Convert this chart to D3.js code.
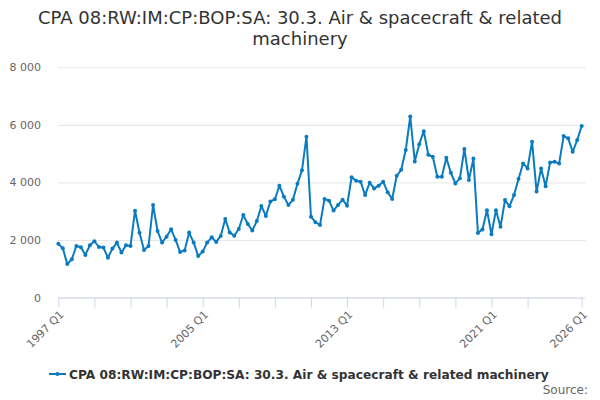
<!DOCTYPE html>
<html>
<head>
<meta charset="utf-8">
<script src="https://cdn.jsdelivr.net/npm/d3@7"></script>
<style>
  body { margin: 0; background: #fff; }
  svg { font-family: "DejaVu Sans", sans-serif; display: block; }
</style>
</head>
<body>
<svg width="600" height="400"></svg>
<script>
// quarterly categories 1997 Q1 .. 2026 Q1
const years = d3.range(1997, 2027);
const quarters = [];
years.forEach(y => [1, 2, 3, 4].forEach(q => { if (y < 2026 || q === 1) quarters.push(y + " Q" + q); }));

const values = [
  1870, 1710, 1160, 1330, 1790, 1745, 1480, 1815, 1955, 1755,
  1735, 1385, 1700, 1910, 1560, 1815, 1790, 3015, 2250, 1650,
  1790, 3215, 2310, 1910, 2115, 2370, 2000, 1580, 1630, 2255,
  1910, 1445, 1595, 1910, 2090, 1930, 2140, 2730, 2255, 2150,
  2380, 2865, 2555, 2325, 2660, 3180, 2835, 3335, 3415, 3885,
  3505, 3215, 3395, 3950, 4420, 5590, 2810, 2615, 2520, 3425,
  3365, 3020, 3215, 3400, 3190, 4175, 4060, 4025, 3560, 3990,
  3790, 3885, 4025, 3655, 3425, 4230, 4440, 5125, 6290, 4730,
  5330, 5780, 4960, 4890, 4195, 4195, 4855, 4335, 3965, 4140,
  5165, 4080, 4830, 2245, 2365, 3035, 2200, 3035, 2455, 3385,
  3175, 3560, 4115, 4660, 4485, 5415, 3680, 4485, 3870, 4695,
  4715, 4660, 5610, 5530, 5065, 5470, 5960
];

const yTicks = [0, 2000, 4000, 6000, 8000];
const xLabels = ["1997 Q1", "2005 Q1", "2013 Q1", "2021 Q1", "2026 Q1"];
const xTickMarks = quarters.filter((q, i) => (i % 8 === 0 && i <= 104) || i === quarters.length - 1);

const titleLines = ["CPA 08:RW:IM:CP:BOP:SA: 30.3. Air & spacecraft & related", "machinery"];
const seriesName = "CPA 08:RW:IM:CP:BOP:SA: 30.3. Air & spacecraft & related machinery";
const lineColor = "#0a7bc1";

const svg = d3.select("svg");

const x = d3.scalePoint().domain(quarters).range([58.3, 581.7]);
const y = d3.scaleLinear().domain([0, 8000]).range([297.5, 67.3]);

// title
svg.append("text")
  .attr("x", 300).attr("y", 24)
  .attr("text-anchor", "middle")
  .attr("font-size", 18).attr("fill", "#333")
  .selectAll("tspan").data(titleLines).join("tspan")
  .attr("x", 300).attr("dy", (d, i) => i ? 21 : 0)
  .text(d => d);

// gridlines + y labels
const yAxis = d3.axisLeft(y).tickValues(yTicks).tickSize(-528)
  .tickFormat(d => d3.format(",")(d).replace(/,/g, " "));
svg.append("g").attr("transform", "translate(58,0)").call(yAxis)
  .call(g => g.select(".domain").remove())
  .call(g => g.selectAll(".tick line").attr("stroke", "#e6e6e6"))
  .call(g => g.selectAll(".tick text").attr("x", -17).attr("fill", "#666")
    .attr("font-size", 11).attr("font-family", "DejaVu Sans, sans-serif"));

// x axis
const xAxis = d3.axisBottom(x).tickValues(xTickMarks).tickSize(10).tickSizeOuter(0)
  .tickFormat(d => xLabels.includes(d) ? d : "");
const gx = svg.append("g").attr("transform", "translate(0,297.5)").call(xAxis);
gx.select(".domain").attr("stroke", "#ccd6eb").attr("d", "M58,0.5H583");
gx.selectAll(".tick line").attr("stroke", "#ccd6eb");
gx.selectAll(".tick text")
  .attr("fill", "#666").attr("font-size", 11).attr("font-family", "DejaVu Sans, sans-serif")
  .attr("text-anchor", "end")
  .attr("transform", "translate(3,15) rotate(-45)")
  .attr("y", 0).attr("dy", "0.35em");

// series
const line = d3.line().x((d, i) => x(quarters[i])).y(d => y(d));
svg.append("path").datum(values)
  .attr("fill", "none").attr("stroke", lineColor).attr("stroke-width", 2)
  .attr("stroke-linejoin", "round").attr("d", line);
svg.append("g").selectAll("circle").data(values).join("circle")
  .attr("cx", (d, i) => x(quarters[i])).attr("cy", d => y(d))
  .attr("r", 2).attr("fill", lineColor);

// legend
const lg = svg.append("g").attr("transform", "translate(49,374)");
lg.append("line").attr("x1", 0).attr("x2", 17).attr("stroke", lineColor).attr("stroke-width", 2);
lg.append("circle").attr("cx", 8.5).attr("r", 2).attr("fill", lineColor);
lg.append("text").attr("x", 20).attr("y", 4.5)
  .attr("font-size", 12.2).attr("font-weight", "bold").attr("fill", "#333")
  .text(seriesName);

svg.append("text").attr("x", 588).attr("y", 394).attr("text-anchor", "end")
  .attr("font-size", 12).attr("fill", "#666").text("Source:");
</script>
</body>
</html>
